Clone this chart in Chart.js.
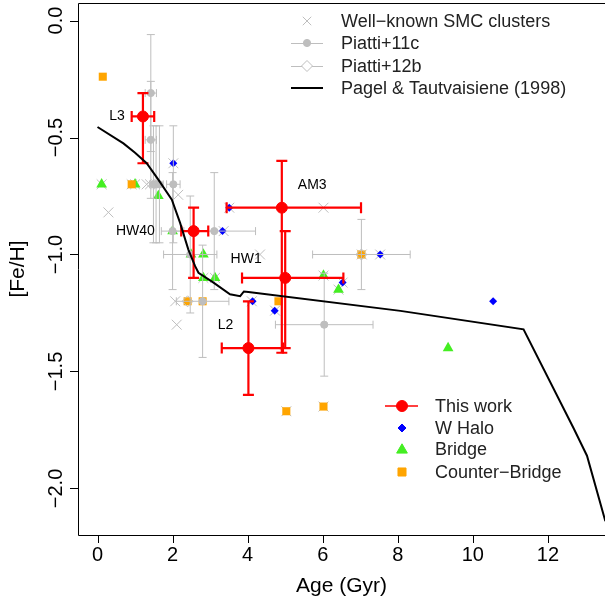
<!DOCTYPE html>
<html><head><meta charset="utf-8">
<script src="https://cdn.jsdelivr.net/npm/chart.js@4"></script>
<style>html,body{margin:0;padding:0;background:#fff;}#c{display:block;}</style>
</head><body>
<canvas id="c" width="605" height="606" style="width:605px;height:606px"></canvas>
<script>
// ---------------- data ----------------
const xTicks = [0, 2, 4, 6, 8, 10, 12];
const yTicks = [0, -0.5, -1.0, -1.5, -2.0];
const yTickLabels = ['0.0', '\u22120.5', '\u22121.0', '\u22121.5', '\u22122.0'];

// Pagel & Tautvaisiene (1998) model
const pagelAge = [0, 0.69, 1.0, 1.31, 1.62, 1.98, 2.2, 2.42, 2.6, 2.69, 3.09, 3.53, 3.8, 3.9, 4.02, 8.07, 11.35, 12.69, 13.04, 13.53, 13.8];
const pagelFeH = [-0.455, -0.525, -0.565, -0.61, -0.68, -0.766, -0.865, -0.979, -1.05, -1.078, -1.12, -1.17, -1.178, -1.158, -1.16, -1.241, -1.32, -1.745, -1.86, -2.14, -2.29];

// This work
const twName = ['L3', 'HW40', 'AM3', 'HW1', 'L2'];
const twAge = [1.21, 2.56, 4.91, 5.0, 4.02];
const twFeH = [-0.41, -0.90, -0.80, -1.10, -1.40];
const twAgeLo = [0.91, 2.23, 3.44, 3.85, 3.31];
const twAgeHi = [1.51, 2.95, 7.02, 6.55, 4.94];
const twFeHHi = [-0.31, -0.80, -0.60, -0.90, -1.20];
const twFeHLo = [-0.61, -1.10, -1.42, -1.40, -1.60];
const twLabelAge = [0.52, 1.01, 5.72, 3.96, 3.41];
const twLabelFeH = [-0.41, -0.90, -0.705, -1.02, -1.30];

// W Halo
const whAge = [2.02, 3.51, 3.33, 7.53, 6.53, 4.13, 4.72, 10.54];
const whFeH = [-0.61, -0.80, -0.90, -1.00, -1.12, -1.20, -1.24, -1.20];

// Bridge
const brAge = [0.11, 1.0, 1.62, 2.0, 2.49, 2.82, 2.82, 3.13, 6.02, 6.42, 9.34];
const brFeH = [-0.70, -0.70, -0.75, -0.90, -1.00, -1.00, -1.10, -1.10, -1.09, -1.15, -1.40];

// Counter-Bridge
const cbAge = [0.14, 0.91, 2.4, 2.8, 4.82, 7.03, 5.03, 6.02];
const cbFeH = [-0.24, -0.70, -1.20, -1.20, -1.20, -1.00, -1.67, -1.65];

// Well-known SMC clusters
const smcAge = [0.29, 0.11, 0.91, 1.0, 1.31, 1.4, 2.15, 2.02, 3.51, 3.36, 4.33, 6.02, 7.04, 7.53, 6.02, 6.42, 6.53, 4.11, 4.73, 2.07, 2.11, 6.02, 5.03, 2.82, 3.13];
const smcFeH = [-0.82, -0.70, -0.70, -0.70, -0.70, -0.70, -0.745, -0.61, -0.80, -0.90, -1.00, -0.80, -1.00, -1.00, -1.09, -1.15, -1.12, -1.20, -1.24, -1.20, -1.30, -1.65, -1.67, -1.10, -1.10];

// Piatti+11c
const p11Age = [1.42, 1.42, 1.49, 1.56, 1.65, 2.02, 2.0, 3.11, 2.47, 2.8, 6.04];
const p11FeH = [-0.31, -0.51, -0.70, -0.70, -0.70, -0.70, -0.90, -0.90, -1.00, -1.20, -1.30];
const p11AgeErr = [0.15, 0.15, 0.1, 0.1, 0.1, 0.18, 0.3, 1.1, 0.71, 0.7, 1.3];
const p11FeHErr = [0.25, 0.25, 0.25, 0.25, 0.25, 0.25, 0.25, 0.25, 0.25, 0.24, 0.22];

// Piatti+12b
const p12Age = [7.03, 2.4];
const p12FeH = [-1.00, -1.20];
const p12AgeErr = [1.3, 0];
const p12FeHErr = [0.15, 0];

// ---------------- helpers ----------------
const GRAY = '#bebebe';
const RED = '#ff0000';
const BLUE = '#0000ff';
const GREEN = '#44ee22';
const ORANGE = '#ffa500';
const FONT = '"Liberation Sans", Arial, Helvetica, sans-serif';

function pts(xs, ys) { return xs.map((x, i) => ({x: x, y: ys[i]})); }

function errBars(ctx, sx, sy, xs, ys, xlo, xhi, ylo, yhi, color, lw, cap) {
  ctx.save();
  ctx.strokeStyle = color; ctx.lineWidth = lw; ctx.lineCap = 'butt';
  for (let i = 0; i < xs.length; i++) {
    const px = sx.getPixelForValue(xs[i]), py = sy.getPixelForValue(ys[i]);
    const x1 = sx.getPixelForValue(xlo[i]), x2 = sx.getPixelForValue(xhi[i]);
    const y1 = sy.getPixelForValue(ylo[i]), y2 = sy.getPixelForValue(yhi[i]);
    ctx.beginPath();
    if (Math.abs(x2 - x1) > 0.5) {
      ctx.moveTo(x1, py); ctx.lineTo(x2, py);
      ctx.moveTo(x1, py - cap); ctx.lineTo(x1, py + cap);
      ctx.moveTo(x2, py - cap); ctx.lineTo(x2, py + cap);
    }
    if (Math.abs(y2 - y1) > 0.5) {
      ctx.moveTo(px, y1); ctx.lineTo(px, y2);
      ctx.moveTo(px - cap, y1); ctx.lineTo(px + cap, y1);
      ctx.moveTo(px - cap, y2); ctx.lineTo(px + cap, y2);
    }
    ctx.stroke();
  }
  ctx.restore();
}

function marker(ctx, style, x, y, r, fill, stroke, lw) {
  ctx.save();
  ctx.fillStyle = fill || 'rgba(0,0,0,0)';
  ctx.strokeStyle = stroke || 'rgba(0,0,0,0)';
  ctx.lineWidth = lw || 1;
  Chart.helpers.drawPoint(ctx, {pointStyle: style, radius: r, rotation: 0, borderWidth: lw || 1}, x, y);
  ctx.restore();
}

const custom = {
  id: 'custom',
  beforeDatasetDraw(chart, args) {
    const ds = chart.data.datasets[args.index];
    const sx = chart.scales.x, sy = chart.scales.y, ctx = chart.ctx;
    if (ds.label === 'Piatti+11c') {
      errBars(ctx, sx, sy, p12Age, p12FeH,
        p12Age.map((a, i) => a - p12AgeErr[i]), p12Age.map((a, i) => a + p12AgeErr[i]),
        p12FeH.map((f, i) => f - p12FeHErr[i]), p12FeH.map((f, i) => f + p12FeHErr[i]), GRAY, 1, 4);
      errBars(ctx, sx, sy, p11Age, p11FeH,
        p11Age.map((a, i) => a - p11AgeErr[i]), p11Age.map((a, i) => a + p11AgeErr[i]),
        p11FeH.map((f, i) => f - p11FeHErr[i]), p11FeH.map((f, i) => f + p11FeHErr[i]), GRAY, 1, 4);
    }
    if (ds.label === 'This work') {
      errBars(ctx, sx, sy, twAge, twFeH, twAgeLo, twAgeHi, twFeHLo, twFeHHi, RED, 2.2, 5.5);
    }
  },
  afterDraw(chart) {
    const ctx = chart.ctx, a = chart.chartArea, sx = chart.scales.x, sy = chart.scales.y;
    ctx.save();
    // box
    ctx.strokeStyle = '#000'; ctx.lineWidth = 1;
    ctx.beginPath();
    ctx.rect(a.left + 0.5, a.top + 0.5, a.right - a.left, a.bottom - a.top);
    ctx.stroke();
    // ticks
    ctx.beginPath();
    xTicks.forEach(v => { const p = Math.round(sx.getPixelForValue(v)) + 0.5; ctx.moveTo(p, a.bottom); ctx.lineTo(p, a.bottom + 8); });
    yTicks.forEach(v => { const p = Math.round(sy.getPixelForValue(v)) + 0.5; ctx.moveTo(a.left, p); ctx.lineTo(a.left - 8, p); });
    ctx.stroke();
    ctx.fillStyle = '#000';
    ctx.font = '20px ' + FONT;
    ctx.textAlign = 'center'; ctx.textBaseline = 'middle';
    xTicks.forEach(v => ctx.fillText(String(v), sx.getPixelForValue(v), 555));
    yTicks.forEach((v, i) => {
      ctx.save(); ctx.translate(56, sy.getPixelForValue(v)); ctx.rotate(-Math.PI / 2);
      ctx.fillText(yTickLabels[i], 0, 0); ctx.restore();
    });
    ctx.font = '21px ' + FONT;
    ctx.fillText('Age (Gyr)', (a.left + a.right) / 2, 586);
    ctx.save(); ctx.translate(18, (a.top + a.bottom) / 2); ctx.rotate(-Math.PI / 2);
    ctx.fillText('[Fe/H]', 0, 0); ctx.restore();

    // annotations
    ctx.font = '14px ' + FONT;
    twName.forEach((n, i) => ctx.fillText(n, sx.getPixelForValue(twLabelAge[i]), sy.getPixelForValue(twLabelFeH[i])));

    // top-right legend
    ctx.font = '18px ' + FONT;
    ctx.textAlign = 'left';
    const L1x = 307, L1t = 341, L1y = [21, 43, 66, 88];
    const L1txt = ['Well\u2212known SMC clusters', 'Piatti+11c', 'Piatti+12b', 'Pagel & Tautvaisiene (1998)'];
    marker(ctx, 'crossRot', L1x, L1y[0], 6, null, GRAY, 1);
    ctx.strokeStyle = GRAY; ctx.lineWidth = 1;
    ctx.beginPath(); ctx.moveTo(291, L1y[1] + 0.5); ctx.lineTo(323, L1y[1] + 0.5); ctx.moveTo(291, L1y[2] + 0.5); ctx.lineTo(323, L1y[2] + 0.5); ctx.stroke();
    marker(ctx, 'circle', L1x, L1y[1], 3.6, GRAY, GRAY, 1);
    marker(ctx, 'rectRot', L1x, L1y[2], 5.5, '#fff', GRAY, 1);
    ctx.strokeStyle = '#000'; ctx.lineWidth = 2;
    ctx.beginPath(); ctx.moveTo(291, L1y[3]); ctx.lineTo(323, L1y[3]); ctx.stroke();
    ctx.fillStyle = '#222';
    L1txt.forEach((t, i) => ctx.fillText(t, L1t, L1y[i] + 1));

    // bottom-right legend
    const L2x = 402, L2t = 435, L2y = [406, 428, 449, 472];
    const L2txt = ['This work', 'W Halo', 'Bridge', 'Counter\u2212Bridge'];
    ctx.strokeStyle = RED; ctx.lineWidth = 1.5;
    ctx.beginPath(); ctx.moveTo(385, L2y[0]); ctx.lineTo(418, L2y[0]); ctx.stroke();
    marker(ctx, 'circle', L2x, L2y[0], 5.5, RED, RED, 1);
    marker(ctx, 'rectRot', L2x, L2y[1], 4, BLUE, BLUE, 1);
    marker(ctx, 'triangle', L2x, L2y[2] + 1, 6.2, GREEN, GREEN, 1);
    marker(ctx, 'rect', L2x, L2y[3], 5.7, ORANGE, ORANGE, 1);
    ctx.fillStyle = '#222';
    L2txt.forEach((t, i) => ctx.fillText(t, L2t, L2y[i] + 1));
    ctx.restore();
  }
};

new Chart(document.getElementById('c'), {
  type: 'scatter',
  data: {
    datasets: [
      {label: 'Pagel & Tautvaisiene (1998)', type: 'line', data: pts(pagelAge, pagelFeH), borderColor: '#000', borderWidth: 2, pointRadius: 0, tension: 0, fill: false, order: 0},
      {label: 'This work', data: pts(twAge, twFeH), pointStyle: 'circle', pointRadius: 5.5, backgroundColor: RED, borderColor: RED, borderWidth: 1, order: 1},
      {label: 'Piatti+12b', data: pts(p12Age, p12FeH), pointStyle: 'rectRot', pointRadius: 5.5, backgroundColor: 'rgba(0,0,0,0)', borderColor: GRAY, borderWidth: 1, order: 2},
      {label: 'Piatti+11c', data: pts(p11Age, p11FeH), pointStyle: 'circle', pointRadius: 3.6, backgroundColor: GRAY, borderColor: GRAY, borderWidth: 1, order: 3},
      {label: 'Counter-Bridge', data: pts(cbAge, cbFeH), pointStyle: 'rect', pointRadius: 5.7, backgroundColor: ORANGE, borderColor: ORANGE, borderWidth: 0, order: 4},
      {label: 'Bridge', data: pts(brAge, brFeH), pointStyle: 'triangle', pointRadius: 6.2, backgroundColor: GREEN, borderColor: GREEN, borderWidth: 0, order: 5},
      {label: 'W Halo', data: pts(whAge, whFeH), pointStyle: 'rectRot', pointRadius: 4, backgroundColor: BLUE, borderColor: BLUE, borderWidth: 0, order: 6},
      {label: 'Well-known SMC clusters', data: pts(smcAge, smcFeH), pointStyle: 'crossRot', pointRadius: 7, borderColor: GRAY, borderWidth: 1, order: 7}
    ]
  },
  options: {
    responsive: false, animation: false, events: [],
    layout: {autoPadding: false, padding: {left: 78, right: 0, top: 3, bottom: 71}},
    scales: {
      x: {type: 'linear', min: -0.52, max: 13.52, display: false},
      y: {type: 'linear', min: -2.199, max: 0.075, display: false}
    },
    plugins: {legend: {display: false}, tooltip: {enabled: false}}
  },
  plugins: [custom]
});
</script>
</body></html>
